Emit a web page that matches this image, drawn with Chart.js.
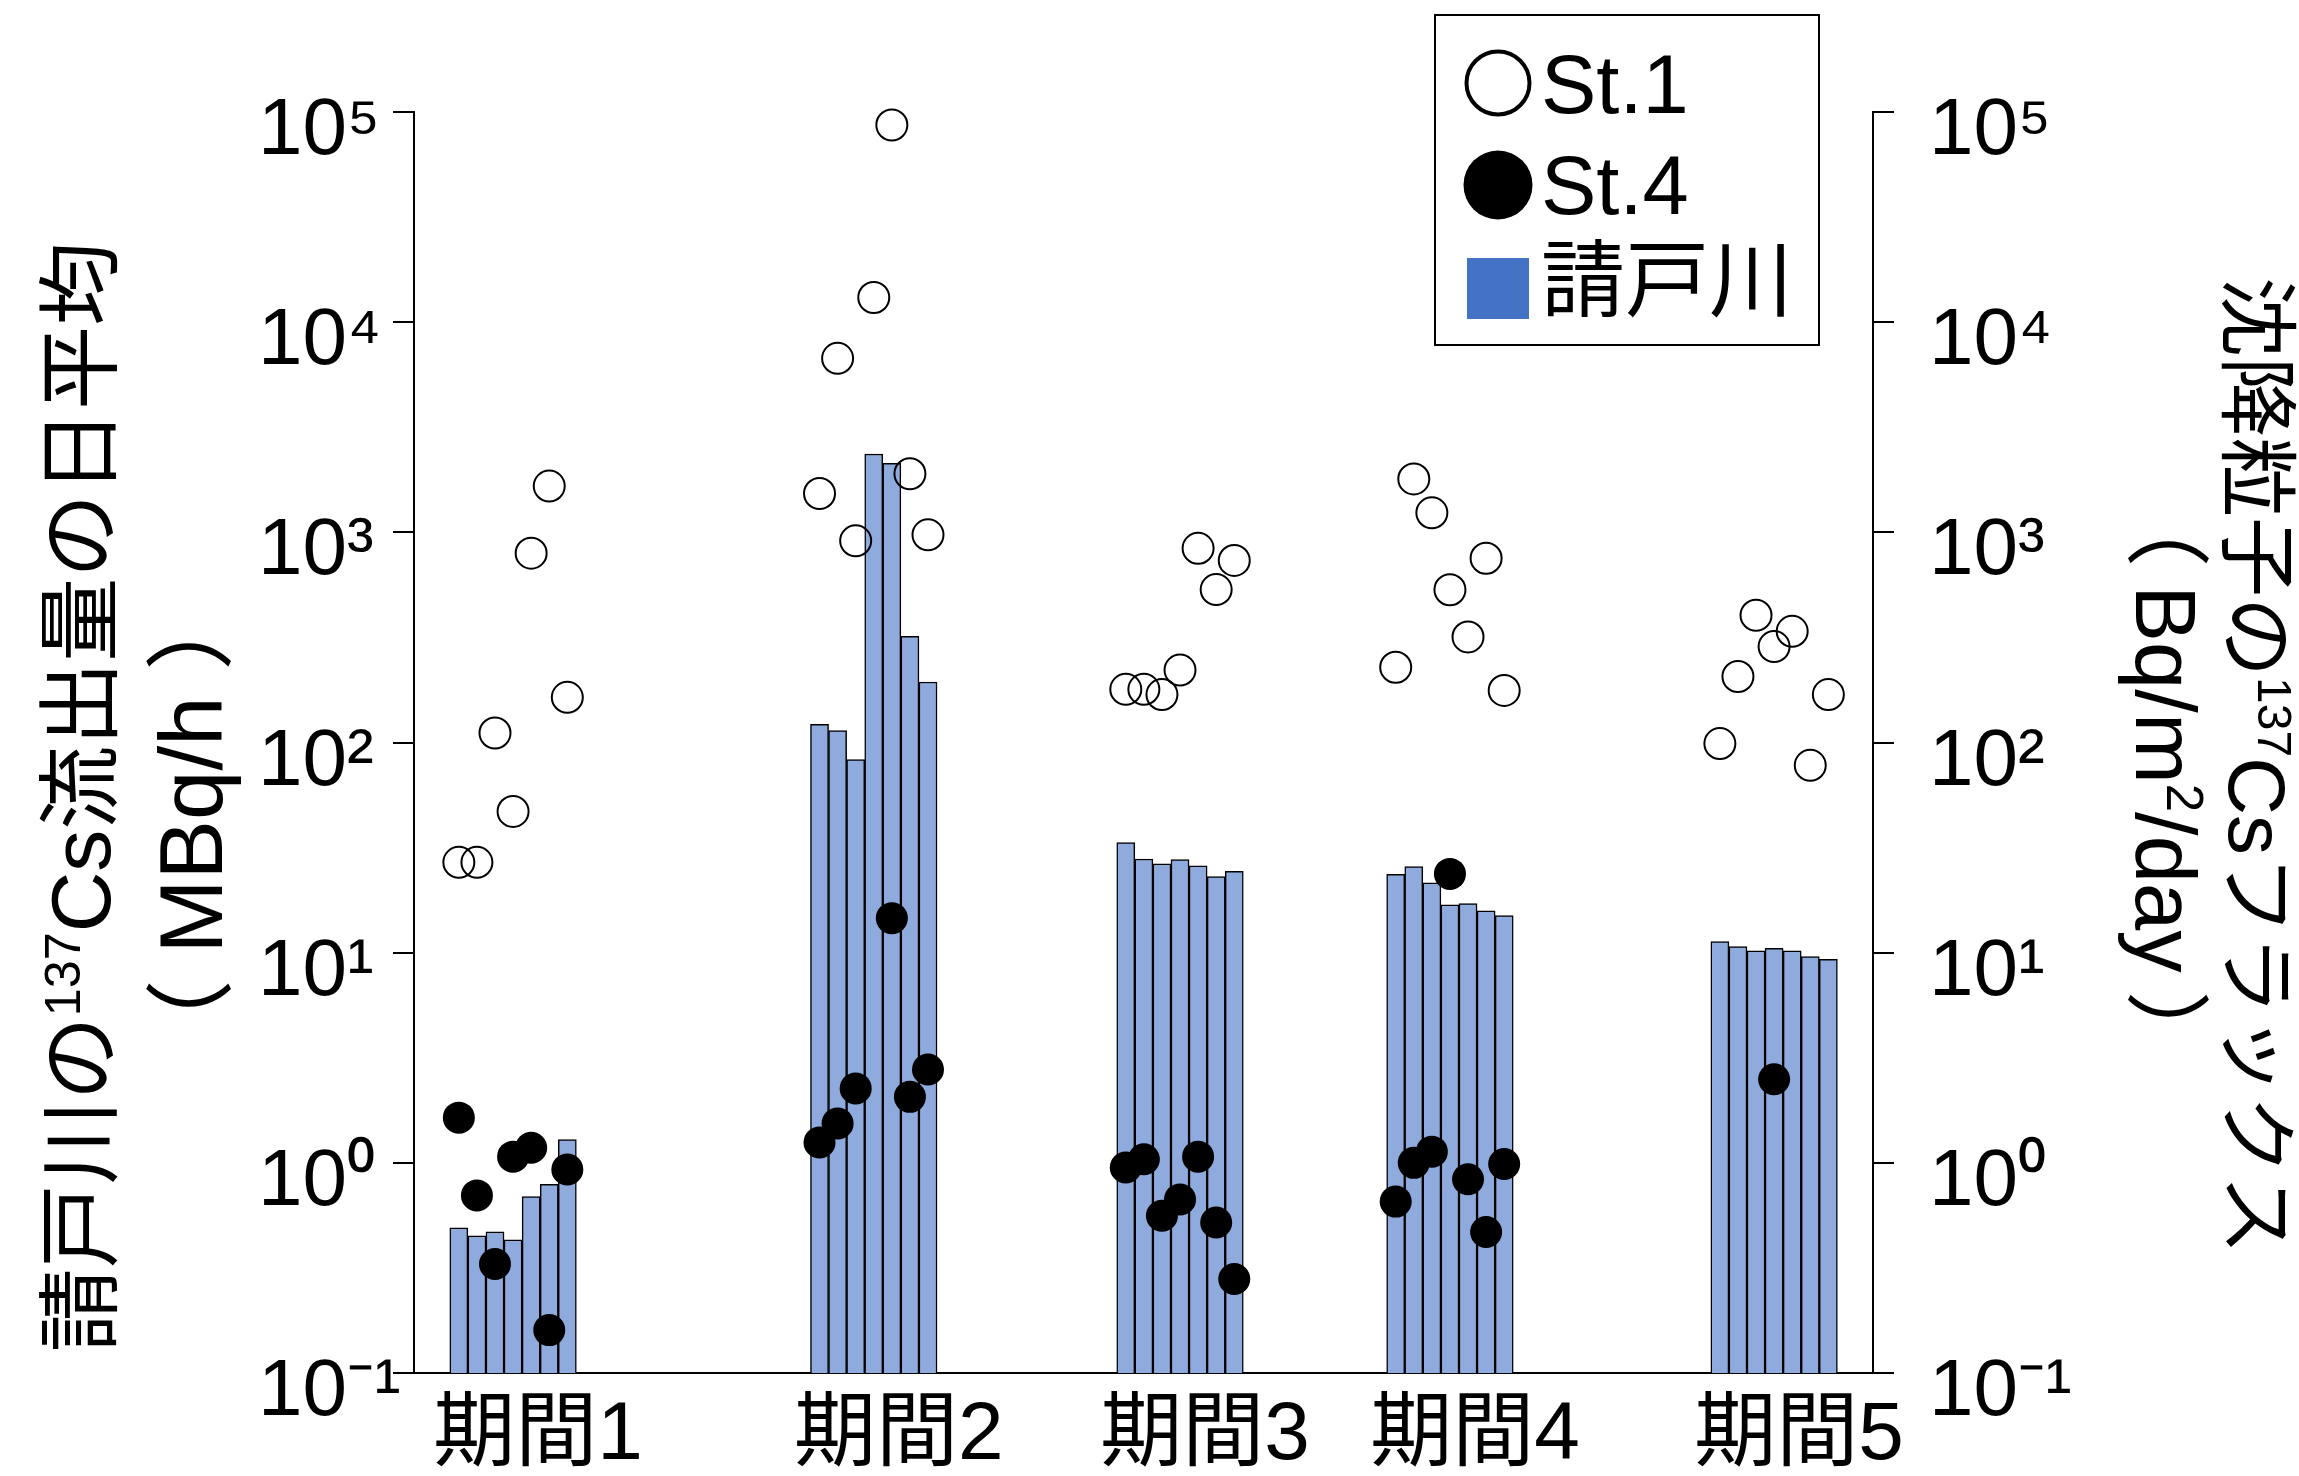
<!DOCTYPE html>
<html>
<head>
<meta charset="utf-8">
<script src="https://cdn.jsdelivr.net/npm/chart.js@4/dist/chart.umd.min.js"></script>
<style>
  html, body { margin: 0; padding: 0; background: #fff; }
  #wrap { width: 2299px; height: 1476px; }
</style>
</head>
<body>
<div id="wrap"><canvas id="c" width="2299" height="1476"></canvas></div>
<script>
// ---- data ----
const periods = ['期間1', '期間2', '期間3', '期間4', '期間5'];

// 請戸川の137Cs流出量の日平均 (MBq/h), 7 days per period
const ukedoFlow = [
  [0.49, 0.45, 0.47, 0.43, 0.69, 0.79, 1.29],
  [122, 114, 83, 2360, 2130, 320, 194],
  [33.4, 27.9, 26.5, 27.7, 25.9, 23.0, 24.4],
  [23.6, 25.7, 21.5, 16.9, 17.1, 15.8, 15.0],
  [11.3, 10.7, 10.2, 10.5, 10.2, 9.57, 9.29]
];

// 沈降粒子の137Csフラックス (Bq/m2/day)
const st1Flux = [
  [26.9, 26.9, 111, 47, 796, 1660, 164],
  [1530, 6730, 911, 13100, 86700, 1900, 973],
  [179, 179, 169, 221, 839, 534, 735],
  [228, 1795, 1238, 533, 318, 753, 177],
  [98.8, 206, 403, 286, 338, 77.9, 169]
];
const st4Flux = [
  [1.64, 0.70, 0.33, 1.07, 1.18, 0.16, 0.93],
  [1.25, 1.54, 2.26, null, 14.6, 2.06, 2.78],
  [0.95, 1.04, 0.56, 0.67, 1.07, 0.52, 0.28],
  [0.654, 1.00, 1.13, 23.7, 0.835, 0.469, 0.987],
  [null, null, null, 2.50, null, null, null]
];

const yTickValues = [0.1, 1, 10, 100, 1000, 10000, 100000];
const yTickLabels = ['10⁻¹', '10⁰', '10¹', '10²', '10³', '10⁴', '10⁵'];

// ---- layout: x axis measured in day slots, one bar per slot ----
const GROUP_CENTERS = [5.48, 25.43, 42.37, 57.30, 75.23];
const X_MAX = 80.7;

const FONT = '"Liberation Sans", "Noto Sans CJK JP", sans-serif';

function toPoints(series) {
  const pts = [];
  series.forEach((group, g) => {
    group.forEach((v, d) => {
      if (v !== null) pts.push({ x: GROUP_CENTERS[g] + d - 3, y: v });
    });
  });
  return pts;
}

// Rotated axis titles with superscripts; `gap` adds space after a run
const axisTitles = {
  id: 'axisTitles',
  afterDraw(chart, args, opts) {
    const ctx = chart.ctx;
    opts.items.forEach(item => {
      ctx.save();
      ctx.translate(item.x, item.y);
      ctx.rotate(item.rotation);
      const fs = item.size;
      const supFs = fs * 0.6;
      let total = 0;
      const parts = item.parts.map(p => {
        const size = p.sup ? supFs : fs;
        ctx.font = `${size}px ${FONT}`;
        const w = ctx.measureText(p.text).width + (p.gap || 0);
        total += w;
        return { text: p.text, size, w, sup: !!p.sup };
      });
      let cx = -total / 2;
      ctx.fillStyle = '#000';
      ctx.textBaseline = 'alphabetic';
      ctx.textAlign = 'left';
      parts.forEach(p => {
        ctx.font = `${p.size}px ${FONT}`;
        const base = fs * 0.36;
        ctx.fillText(p.text, cx, p.sup ? base - fs * 0.36 : base);
        cx += p.w;
      });
      ctx.restore();
    });
  }
};

// Boxed legend in the upper right of the plot
const legendBox = {
  id: 'legendBox',
  afterDraw(chart, args, o) {
    const ctx = chart.ctx;
    ctx.save();
    ctx.fillStyle = '#fff';
    ctx.fillRect(o.x, o.y, o.w, o.h);
    ctx.strokeStyle = '#000';
    ctx.lineWidth = 2;
    ctx.strokeRect(o.x, o.y, o.w, o.h);

    const mx = o.x + 63;
    // St.1 open circle
    ctx.beginPath();
    ctx.arc(mx, o.y + 68, 31.5, 0, Math.PI * 2);
    ctx.lineWidth = 4;
    ctx.stroke();
    // St.4 filled circle
    ctx.beginPath();
    ctx.arc(mx, o.y + 170, 34.5, 0, Math.PI * 2);
    ctx.fillStyle = '#000';
    ctx.fill();
    // 請戸川 square
    ctx.fillStyle = '#4472C4';
    ctx.fillRect(mx - 31, o.y + 243, 62, 61);

    ctx.fillStyle = '#000';
    ctx.font = `83px ${FONT}`;
    ctx.textAlign = 'left';
    ctx.textBaseline = 'alphabetic';
    ctx.fillText('St.1', o.x + 106, o.y + 98);
    ctx.fillText('St.4', o.x + 106, o.y + 199);
    ctx.textBaseline = 'middle';
    ctx.font = `84px ${FONT}`;
    ctx.fillText('請戸川', o.x + 106, o.y + 272);
    ctx.restore();
  }
};

const yGrid = {
  display: true,
  drawOnChartArea: false,
  drawTicks: true,
  tickLength: 21,
  color: '#000',
  lineWidth: 2
};

new Chart(document.getElementById('c'), {
  type: 'bar',
  data: {
    datasets: [
      {
        type: 'scatter',
        label: 'St.1',
        data: toPoints(st1Flux),
        yAxisID: 'y2',
        clip: false,
        pointStyle: 'circle',
        pointRadius: 15.5,
        pointBorderWidth: 2,
        pointBorderColor: '#000',
        pointBackgroundColor: 'rgba(0,0,0,0)',
        order: 1
      },
      {
        type: 'scatter',
        label: 'St.4',
        data: toPoints(st4Flux),
        yAxisID: 'y2',
        clip: false,
        pointStyle: 'circle',
        pointRadius: 16,
        pointBorderWidth: 0,
        pointBackgroundColor: '#000',
        order: 0
      },
      {
        type: 'bar',
        label: '請戸川',
        data: toPoints(ukedoFlow),
        yAxisID: 'y',
        backgroundColor: '#8FAADC',
        borderColor: '#000',
        borderWidth: 1.5,
        categoryPercentage: 1,
        barPercentage: 1,
        order: 2
      }
    ]
  },
  options: {
    responsive: false,
    animation: false,
    events: [],
    layout: { padding: { top: 112, left: 258, right: 0, bottom: 0 } },
    plugins: {
      legend: { display: false },
      tooltip: { enabled: false },
      legendBox: { x: 1435, y: 15, w: 384, h: 330 },
      axisTitles: {
        items: [
          { x: 80, y: 797, rotation: -Math.PI / 2, size: 84,
            parts: [{ text: '請戸川の' }, { text: '137', sup: true }, { text: 'Cs流出量の日平均' }] },
          { x: 190, y: 825, rotation: -Math.PI / 2, size: 89,
            parts: [{ text: '（', gap: 26 }, { text: 'MBq/h', gap: 26 }, { text: '）' }] },
          { x: 2258, y: 766, rotation: Math.PI / 2, size: 80,
            parts: [{ text: '沈降粒子の' }, { text: '137', sup: true }, { text: 'Csフラックス' }] },
          { x: 2167, y: 779, rotation: Math.PI / 2, size: 85,
            parts: [{ text: '（', gap: 18 }, { text: 'Bq/m' }, { text: '2', sup: true }, { text: '/day', gap: 18 }, { text: '）' }] }
        ]
      }
    },
    scales: {
      x: {
        type: 'linear',
        min: 0,
        max: X_MAX,
        offset: false,
        afterBuildTicks: s => { s.ticks = GROUP_CENTERS.map(v => ({ value: v })); },
        afterFit: s => { s.height = 103; },
        grid: { display: false, drawTicks: false },
        border: { display: true, color: '#000', width: 2 },
        ticks: {
          autoSkip: false,
          maxRotation: 0,
          minRotation: 0,
          labelOffset: 25,
          padding: 14,
          color: '#000',
          font: { family: FONT, size: 82 },
          callback: (v, i) => periods[i]
        }
      },
      y: {
        type: 'logarithmic',
        position: 'left',
        min: 0.1,
        max: 100000,
        afterBuildTicks: s => { s.ticks = yTickValues.map(v => ({ value: v })); },
        afterFit: s => { s.width = 156; },
        grid: yGrid,
        border: { display: true, color: '#000', width: 2 },
        ticks: {
          crossAlign: 'far',
          labelOffset: 20,
          padding: 33,
          color: '#000',
          font: { family: FONT, size: 80 },
          callback: (v, i) => yTickLabels[i]
        }
      },
      y2: {
        type: 'logarithmic',
        position: 'right',
        min: 0.1,
        max: 100000,
        afterBuildTicks: s => { s.ticks = yTickValues.map(v => ({ value: v })); },
        afterFit: s => { s.width = 426; },
        grid: yGrid,
        border: { display: true, color: '#000', width: 2 },
        ticks: {
          labelOffset: 20,
          padding: 35,
          color: '#000',
          font: { family: FONT, size: 80 },
          callback: (v, i) => yTickLabels[i]
        }
      }
    }
  },
  plugins: [axisTitles, legendBox]
});
</script>
</body>
</html>
